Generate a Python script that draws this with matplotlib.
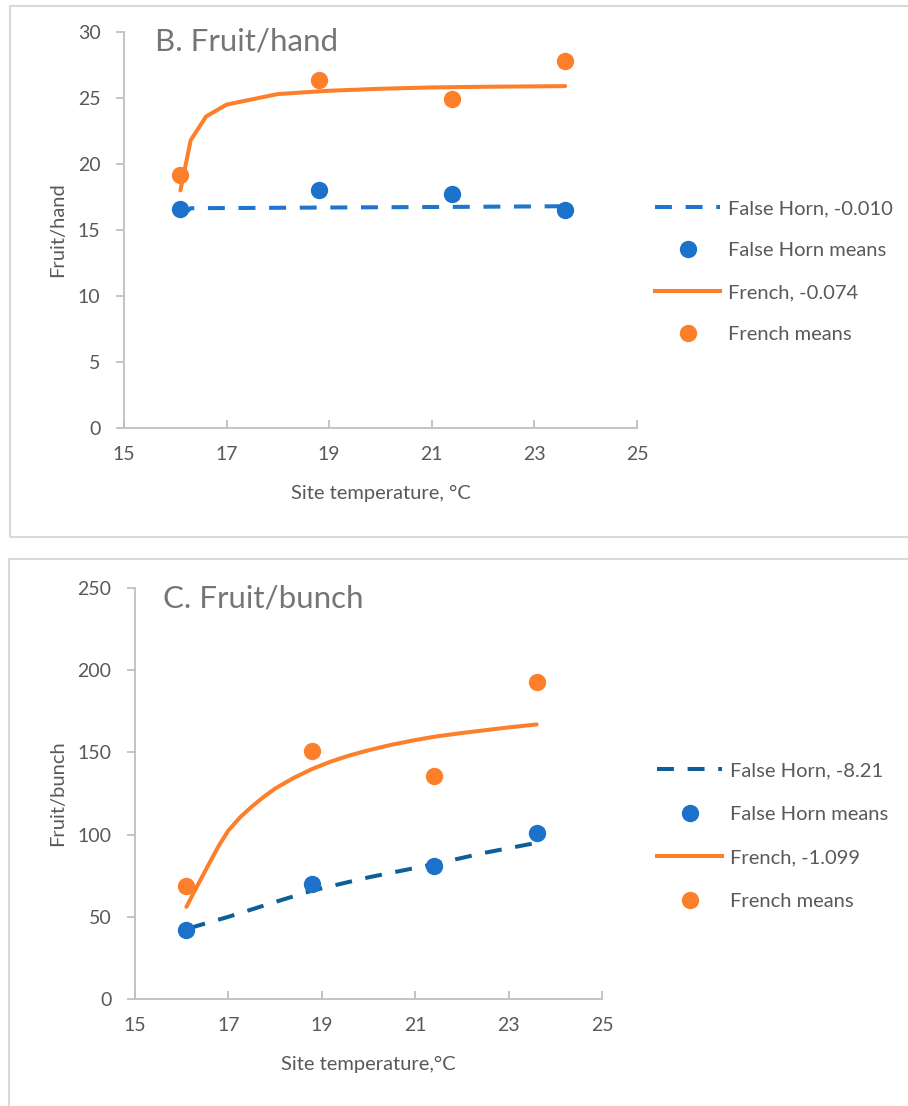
import matplotlib.pyplot as plt
from matplotlib.patches import Rectangle
from matplotlib.lines import Line2D

plt.rcParams['font.family'] = ['Lato', 'DejaVu Sans']

# site temperatures of the four trial sites
site_temp = [16.1, 18.8, 21.4, 23.6]

# B. Fruit/hand
hand_fh_means = [16.6, 18.0, 17.7, 16.5]
hand_fr_means = [19.2, 26.4, 24.9, 27.8]
hand_fh_fit_t = [16.1, 16.3, 18.8, 21.4, 23.6]
hand_fh_fit = [16.0, 16.65, 16.7, 16.75, 16.8]
hand_fr_fit_t = [16.1, 16.3, 16.6, 17.0, 18.0, 19.0, 20.0, 21.0, 22.0, 23.6]
hand_fr_fit = [18.0, 21.8, 23.6, 24.5, 25.3, 25.55, 25.7, 25.8, 25.85, 25.9]

# C. Fruit/bunch
bunch_fh_means = [42, 70, 81, 101]
bunch_fr_means = [68.5, 151, 135.5, 193]
bunch_fh_fit_t = [16.15, 17.0, 18.0, 18.8, 20.0, 21.4, 22.5, 23.6]
bunch_fh_fit = [43, 50, 59, 66, 74, 82, 89, 95]
bunch_fr_fit_t = [16.1, 16.3, 16.6, 16.8, 17.0, 17.25, 17.5, 17.75, 18.0, 18.4, 18.8,
                  19.2, 19.6, 20.0, 20.5, 21.0, 21.4, 22.0, 22.5, 23.0, 23.6]
bunch_fr_fit = [56, 67, 83, 93.5, 102.5, 110.5, 117, 122.8, 128, 134.5, 140,
                144.5, 148.2, 151.3, 154.7, 157.5, 159.5, 161.8, 163.5, 165.2, 167]

x_ticks = [15, 17, 19, 21, 23, 25]

blue = '#1C72CB'
blue_line_b = '#1F74CC'
blue_line_c = '#0E5E98'
orange = '#FD7F29'
grey_txt = '#595959'
grey_axis = '#BFBFBF'

W, H = 908, 1106
fig = plt.figure(figsize=(W / 100, H / 100), dpi=100)

# chart-area frames
fig.patches.append(Rectangle((10 / W, 1 - 537 / H), 1.0, 531 / H, transform=fig.transFigure,
                             fill=False, edgecolor='#D9D9D9', lw=1.5))
fig.patches.append(Rectangle((9 / W, -0.01), 1.0, (1 - 559 / H) + 0.01, transform=fig.transFigure,
                             fill=False, edgecolor='#D9D9D9', lw=1.5))


def draw_panel(rect, title, ylabel, xlabel, ylim, ystep, fh_line_col, fh_t, fh_fit, fr_t, fr_fit,
               fh_means, fr_means, labels, leg_xy, leg_spacing):
    ax = fig.add_axes(rect)
    ax.plot(fh_t, fh_fit, color=fh_line_col, lw=2.9, dashes=(4.2, 3.4), solid_capstyle='round')
    ax.plot(site_temp, fh_means, 'o', color=blue, ms=12.5, mec='none')
    ax.plot(fr_t, fr_fit, color=orange, lw=2.9, solid_capstyle='round')
    ax.plot(site_temp, fr_means, 'o', color=orange, ms=12.5, mec='none')

    ax.set_xlim(15, 25)
    ax.set_ylim(0, ylim)
    ax.set_xticks(x_ticks)
    ax.set_yticks(range(0, ylim + 1, ystep))
    for s in ['top', 'right']:
        ax.spines[s].set_visible(False)
    for s in ['left', 'bottom']:
        ax.spines[s].set_color(grey_axis)
        ax.spines[s].set_linewidth(1.3)
    ax.tick_params(axis='x', direction='in', length=6, color=grey_axis, width=1.3,
                   labelsize=14, labelcolor=grey_txt, pad=13)
    ax.tick_params(axis='y', direction='out', length=6, color=grey_axis, width=1.3,
                   labelsize=14, labelcolor=grey_txt, pad=11)
    ax.set_xlabel(xlabel, fontsize=14.5, color=grey_txt, labelpad=16)
    ax.set_ylabel(ylabel, fontsize=14.5, color=grey_txt, labelpad=8)
    ax.text(0.06, 0.975, title, transform=ax.transAxes, fontsize=22.5, color='#757575',
            ha='left', va='center')
    ax.patch.set_visible(False)

    handles = [
        Line2D([], [], color=fh_line_col, lw=2.9, dashes=(4.2, 3.4)),
        Line2D([], [], ls='none', marker='o', color=blue, ms=12.5, mec='none'),
        Line2D([], [], color=orange, lw=2.9),
        Line2D([], [], ls='none', marker='o', color=orange, ms=12.5, mec='none'),
    ]
    leg = fig.legend(handles, labels, loc='upper left', bbox_to_anchor=leg_xy,
                     bbox_transform=fig.transFigure, frameon=False, fontsize=14.5,
                     handlelength=3.25, handletextpad=0.35, labelspacing=leg_spacing,
                     borderpad=0, borderaxespad=0)
    for t in leg.get_texts():
        t.set_color(grey_txt)
    return ax


draw_panel([124 / W, 1 - 428 / H, 513 / W, 396 / H], 'B. Fruit/hand', 'Fruit/hand',
           'Site temperature, °C', 30, 5, blue_line_b,
           hand_fh_fit_t, hand_fh_fit, hand_fr_fit_t, hand_fr_fit,
           hand_fh_means, hand_fr_means,
           ['False Horn, -0.010', 'False Horn means', 'French, -0.074', 'French means'],
           (655 / W, 1 - 200 / H), 1.24)

draw_panel([135 / W, 1 - 999 / H, 467 / W, 411 / H], 'C. Fruit/bunch', 'Fruit/bunch',
           'Site temperature,°C', 250, 50, blue_line_c,
           bunch_fh_fit_t, bunch_fh_fit, bunch_fr_fit_t, bunch_fr_fit,
           bunch_fh_means, bunch_fr_means,
           ['False Horn, -8.21', 'False Horn means', 'French, -1.099', 'French means'],
           (657 / W, 1 - 762 / H), 1.32)

fig.savefig('out.png', dpi=100)
